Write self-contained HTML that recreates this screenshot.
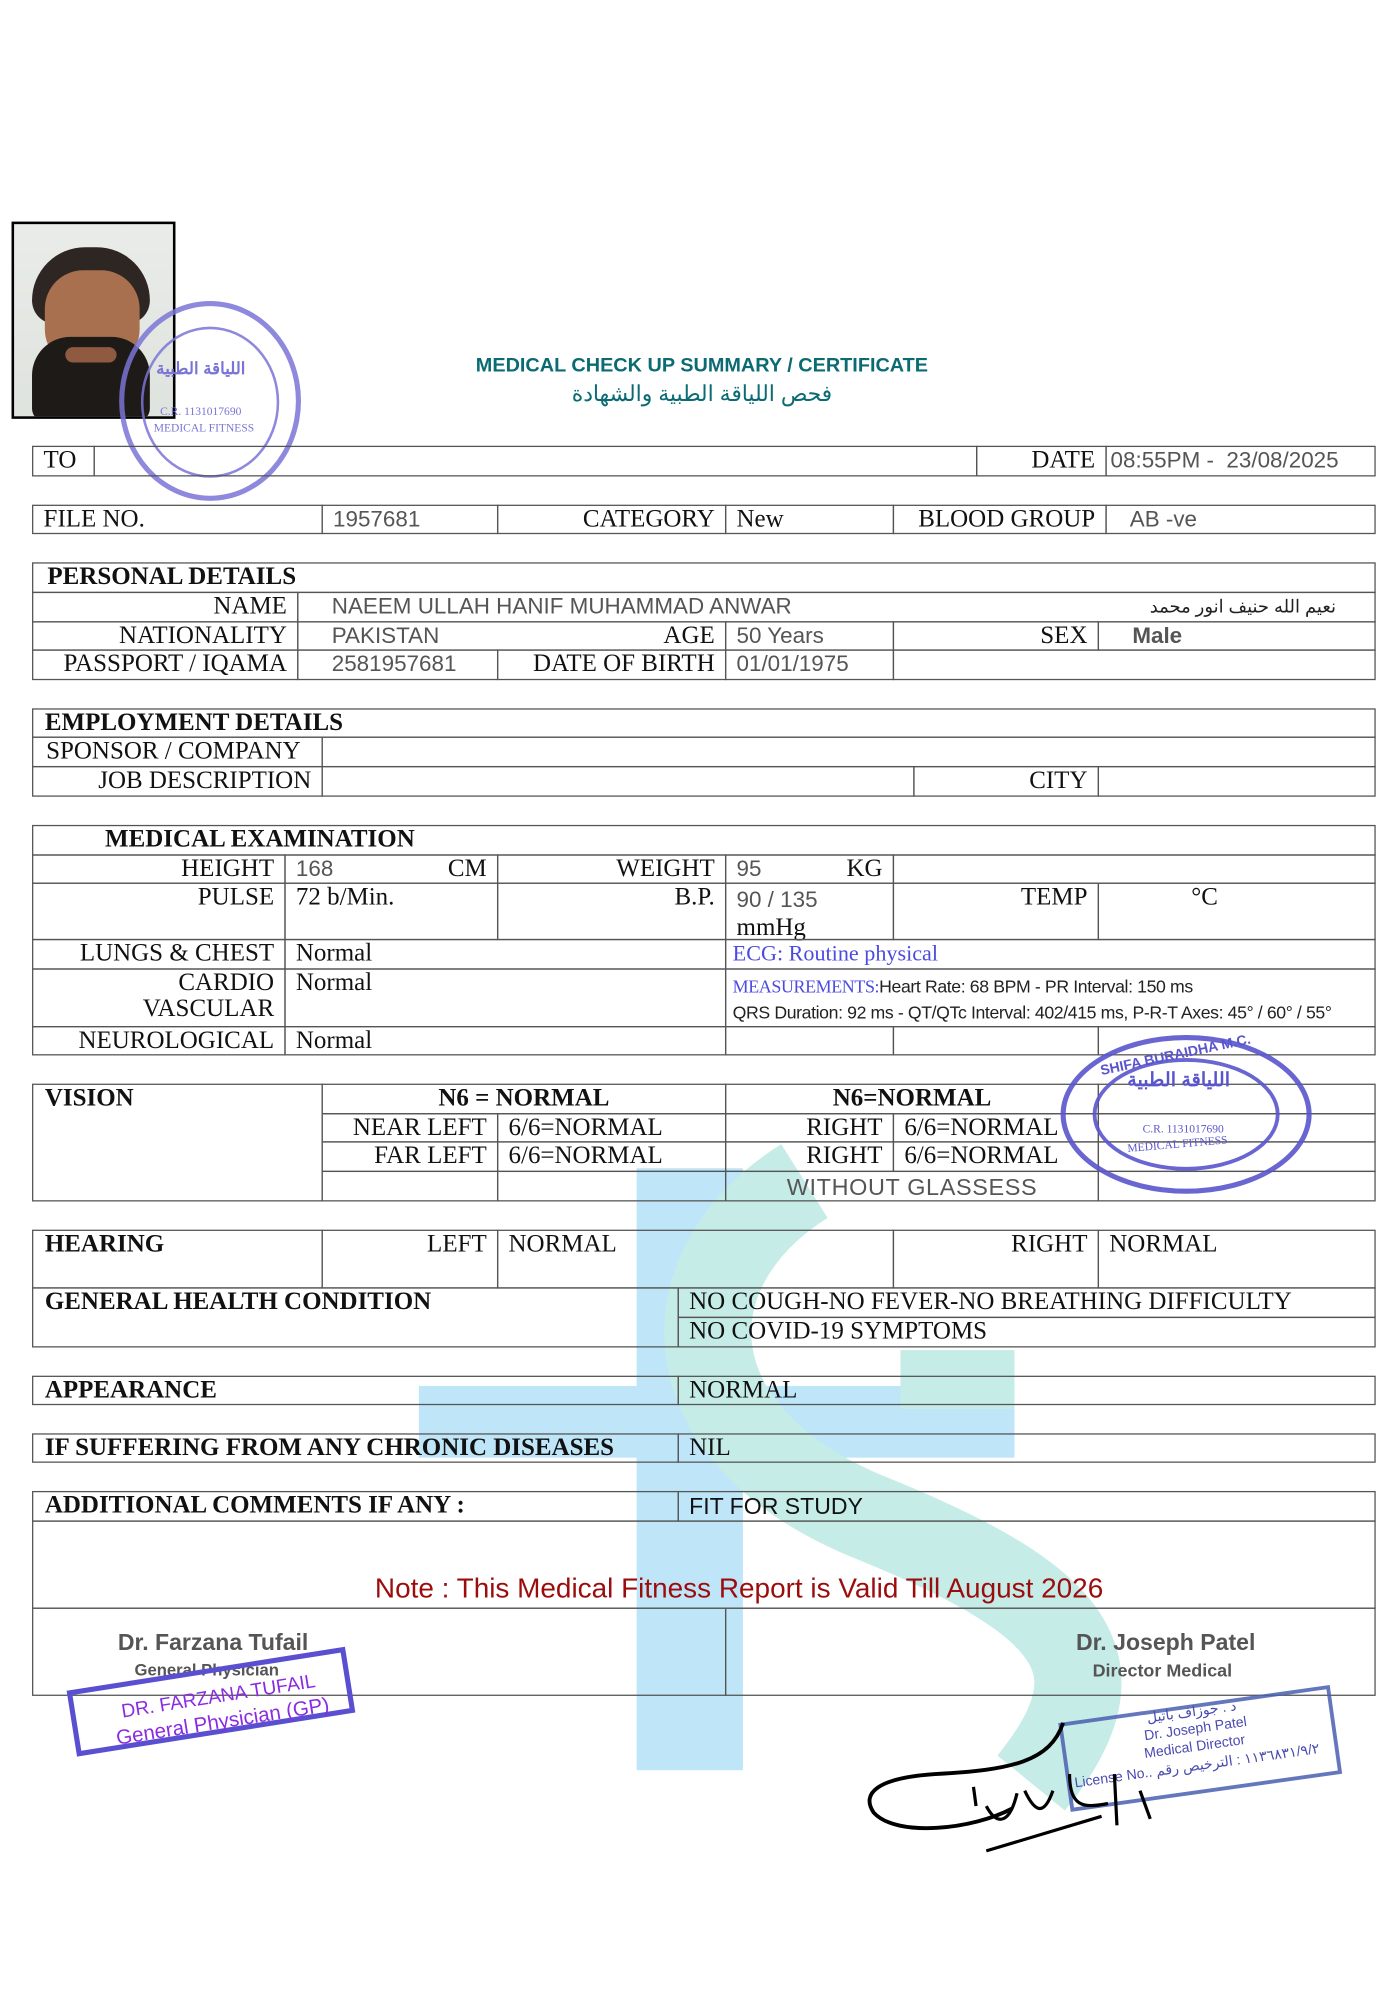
<!DOCTYPE html>
<html><head><meta charset="utf-8">
<style>
html,body{margin:0;padding:0;background:#fff;}
body{width:1400px;height:2008px;overflow:hidden;position:relative;}
#w{position:absolute;left:0;top:0;width:1093px;height:1568px;transform:scale(1.2809);transform-origin:0 0;}
.c{position:absolute;border:1.3px solid #555;box-sizing:border-box;font-family:"Liberation Serif",serif;font-size:19.5px;color:#111;line-height:20px;padding:1px 8px;white-space:nowrap;overflow:visible;}
.r{text-align:right;}
.b{font-weight:bold;}
.v{font-family:"Liberation Sans",sans-serif;color:#555;font-size:17.5px;line-height:18px;}
.t{position:absolute;white-space:nowrap;}
</style></head><body><div id="w">

<!-- watermark -->
<div style="position:absolute;left:497px;top:912px;width:83px;height:470px;background:#bfe6f8;"></div>
<div style="position:absolute;left:327px;top:1082px;width:465px;height:56px;background:#bfe6f8;"></div>
<svg style="position:absolute;left:0;top:0" width="1093" height="1568">
<path d="M628 922 C520 990, 520 1120, 680 1185 S 880 1300, 805 1392" fill="none" stroke="#c6ece8" stroke-width="68"/>
<rect x="703" y="1054" width="89" height="46" fill="#c6ece8"/>
</svg>

<!-- photo -->
<div style="position:absolute;left:9px;top:173px;width:128px;height:154px;border:2px solid #000;box-sizing:border-box;background:linear-gradient(#e9ece8,#dfe3de);overflow:hidden;">
 <div style="position:absolute;left:14px;top:18px;width:92px;height:60px;border-radius:45px 45px 20px 20px;background:#2e2623;"></div>
 <div style="position:absolute;left:24px;top:36px;width:74px;height:76px;border-radius:30px;background:#a8704f;"></div>
 <div style="position:absolute;left:14px;top:88px;width:92px;height:66px;border-radius:30px 30px 10px 10px;background:#1e1a18;"></div>
 <div style="position:absolute;left:40px;top:96px;width:40px;height:12px;border-radius:6px;background:#8f5a40;"></div>
</div>
<!-- stamp 1 -->
<div style="position:absolute;left:93px;top:235px;width:142px;height:156px;border:4px solid #7a74d6;border-radius:50%;box-sizing:border-box;opacity:.85;"></div>
<div style="position:absolute;left:110px;top:255px;width:108px;height:118px;border:2.5px solid #7a74d6;border-radius:50%;box-sizing:border-box;opacity:.85;"></div>
<div class="t" style="left:122px;top:280px;font:bold 13px 'Liberation Sans','Noto Sans CJK SC',sans-serif;color:#7a74d6;">اللياقة الطبية</div>
<div class="t" style="left:125px;top:316px;font:9px 'Liberation Serif',serif;color:#7a74d6;">C.R. 1131017690</div>
<div class="t" style="left:120px;top:329px;font:9px 'Liberation Serif',serif;color:#7a74d6;">MEDICAL FITNESS</div>

<!-- title -->
<div class="t" style="left:0;width:1096px;text-align:center;top:277px;font:bold 15.5px 'Liberation Sans',sans-serif;color:#0b6b73;">MEDICAL CHECK UP SUMMARY / CERTIFICATE</div>
<div class="t" style="left:0;width:1096px;text-align:center;top:298px;font:17px 'Liberation Sans','Noto Sans CJK SC',sans-serif;color:#0b6b73;">فحص اللياقة الطبية والشهادة</div>

<!-- TO row -->
<div class="c" style="left:25px;top:348px;width:49px;height:24px;">TO</div>
<div class="c" style="left:73px;top:348px;width:690px;height:24px;"></div>
<div class="c r" style="left:762px;top:348px;width:102px;height:24px;">DATE</div>
<div class="c v" style="left:863px;top:348px;width:211px;height:24px;padding-left:3px;font-size:17.5px;">08:55PM -&nbsp; 23/08/2025</div>

<!-- FILE row -->
<div class="c" style="left:25px;top:394px;width:227px;height:23px;">FILE NO.</div>
<div class="c v" style="left:251px;top:394px;width:138px;height:23px;">1957681</div>
<div class="c r" style="left:388px;top:394px;width:179px;height:23px;">CATEGORY</div>
<div class="c" style="left:566px;top:394px;width:132px;height:23px;">New</div>
<div class="c r" style="left:697px;top:394px;width:167px;height:23px;">BLOOD GROUP</div>
<div class="c v" style="left:863px;top:394px;width:211px;height:23px;padding-left:18px;">AB -ve</div>

<!-- Personal -->
<div class="c b" style="left:25px;top:439px;width:1049px;height:24px;padding-left:11px;">PERSONAL DETAILS</div>
<div class="c r" style="left:25px;top:462px;width:208px;height:24px;">NAME</div>
<div class="c v" style="left:232px;top:462px;width:842px;height:24px;padding-left:26px;">NAEEM ULLAH HANIF MUHAMMAD ANWAR<span style="position:absolute;right:30px;top:1px;font-family:'Liberation Sans','Noto Sans CJK SC',sans-serif;font-size:14px;color:#222;">نعيم الله حنيف انور محمد</span></div>
<div class="c r" style="left:25px;top:485px;width:208px;height:23px;">NATIONALITY</div>
<div class="c v" style="left:232px;top:485px;width:335px;height:23px;padding-left:26px;">PAKISTAN<span style="position:absolute;right:8px;top:0;font:19.5px 'Liberation Serif',serif;color:#111;">AGE</span></div>
<div class="c v" style="left:566px;top:485px;width:132px;height:23px;">50 Years</div>
<div class="c r" style="left:697px;top:485px;width:161px;height:23px;">SEX</div>
<div class="c v" style="left:857px;top:485px;width:217px;height:23px;padding-left:26px;font-weight:bold;">Male</div>
<div class="c r" style="left:25px;top:507px;width:208px;height:24px;">PASSPORT / IQAMA</div>
<div class="c v" style="left:232px;top:507px;width:157px;height:24px;padding-left:26px;">2581957681</div>
<div class="c r" style="left:388px;top:507px;width:179px;height:24px;">DATE OF BIRTH</div>
<div class="c v" style="left:566px;top:507px;width:132px;height:24px;">01/01/1975</div>
<div class="c" style="left:697px;top:507px;width:377px;height:24px;"></div>

<!-- Employment -->
<div class="c b" style="left:25px;top:553px;width:1049px;height:23px;padding-left:9px;">EMPLOYMENT DETAILS</div>
<div class="c" style="left:25px;top:575px;width:227px;height:24px;padding-left:10px;">SPONSOR / COMPANY</div>
<div class="c" style="left:251px;top:575px;width:823px;height:24px;"></div>
<div class="c r" style="left:25px;top:598px;width:227px;height:24px;">JOB DESCRIPTION</div>
<div class="c" style="left:251px;top:598px;width:463px;height:24px;"></div>
<div class="c r" style="left:713px;top:598px;width:145px;height:24px;">CITY</div>
<div class="c" style="left:857px;top:598px;width:217px;height:24px;"></div>

<!-- Medical -->
<div class="c b" style="left:25px;top:644px;width:1049px;height:24px;padding-left:56px;">MEDICAL EXAMINATION</div>
<div class="c r" style="left:25px;top:667px;width:198px;height:23px;">HEIGHT</div>
<div class="c v" style="left:222px;top:667px;width:167px;height:23px;">168<span style="position:absolute;right:8px;top:0;font:19.5px 'Liberation Serif',serif;color:#111;">CM</span></div>
<div class="c r" style="left:388px;top:667px;width:179px;height:23px;">WEIGHT</div>
<div class="c v" style="left:566px;top:667px;width:132px;height:23px;">95<span style="position:absolute;right:8px;top:0;font:19.5px 'Liberation Serif',serif;color:#111;">KG</span></div>
<div class="c" style="left:697px;top:667px;width:377px;height:23px;"></div>
<div class="c r" style="left:25px;top:689px;width:198px;height:45px;">PULSE</div>
<div class="c" style="left:222px;top:689px;width:167px;height:45px;">72 b/Min.</div>
<div class="c r" style="left:388px;top:689px;width:179px;height:45px;">B.P.</div>
<div class="c v" style="left:566px;top:689px;width:132px;height:45px;line-height:22px;">90 / 135<br><span style="font:19.5px 'Liberation Serif',serif;color:#111;">mmHg</span></div>
<div class="c r" style="left:697px;top:689px;width:161px;height:45px;">TEMP</div>
<div class="c" style="left:857px;top:689px;width:217px;height:45px;padding-left:72px;font-family:'Liberation Serif',serif;">°C</div>
<div class="c r" style="left:25px;top:733px;width:198px;height:24px;">LUNGS &amp; CHEST</div>
<div class="c" style="left:222px;top:733px;width:345px;height:24px;">Normal</div>
<div class="c" style="left:566px;top:733px;width:508px;height:24px;padding-left:5px;color:#4b4be0;font-size:17.3px;">ECG: Routine physical</div>
<div class="c r" style="left:25px;top:756px;width:198px;height:46px;">CARDIO<br>VASCULAR</div>
<div class="c" style="left:222px;top:756px;width:345px;height:46px;">Normal</div>
<div class="c" style="left:566px;top:756px;width:508px;height:46px;padding:4px 5px;font:13.8px 'Liberation Sans',sans-serif;color:#222;line-height:20px;letter-spacing:-.3px;"><span style="font:14px 'Liberation Serif',serif;color:#4b4be0;">MEASUREMENTS:</span>Heart Rate: 68 BPM - PR Interval: 150 ms<br>QRS Duration: 92 ms - QT/QTc Interval: 402/415 ms, P-R-T Axes: 45° / 60° / 55°</div>
<div class="c r" style="left:25px;top:801px;width:198px;height:23px;">NEUROLOGICAL</div>
<div class="c" style="left:222px;top:801px;width:345px;height:23px;">Normal</div>
<div class="c" style="left:566px;top:801px;width:132px;height:23px;"></div>
<div class="c" style="left:697px;top:801px;width:161px;height:23px;"></div>
<div class="c" style="left:857px;top:801px;width:217px;height:23px;"></div>

<!-- Vision -->
<div class="c b" style="left:25px;top:846px;width:227px;height:92px;padding-left:9px;">VISION</div>
<div class="c b" style="left:251px;top:846px;width:316px;height:24px;text-align:center;">N6 = NORMAL</div>
<div class="c b" style="left:566px;top:846px;width:292px;height:24px;text-align:center;">N6=NORMAL</div>
<div class="c" style="left:857px;top:846px;width:217px;height:24px;"></div>
<div class="c r" style="left:251px;top:869px;width:138px;height:23px;">NEAR LEFT</div>
<div class="c" style="left:388px;top:869px;width:179px;height:23px;">6/6=NORMAL</div>
<div class="c r" style="left:566px;top:869px;width:132px;height:23px;">RIGHT</div>
<div class="c" style="left:697px;top:869px;width:161px;height:23px;">6/6=NORMAL</div>
<div class="c" style="left:857px;top:869px;width:217px;height:23px;"></div>
<div class="c r" style="left:251px;top:891px;width:138px;height:24px;">FAR LEFT</div>
<div class="c" style="left:388px;top:891px;width:179px;height:24px;">6/6=NORMAL</div>
<div class="c r" style="left:566px;top:891px;width:132px;height:24px;">RIGHT</div>
<div class="c" style="left:697px;top:891px;width:161px;height:24px;">6/6=NORMAL</div>
<div class="c" style="left:857px;top:891px;width:217px;height:24px;"></div>
<div class="c" style="left:251px;top:914px;width:138px;height:24px;"></div>
<div class="c" style="left:388px;top:914px;width:179px;height:24px;"></div>
<div class="c v" style="left:566px;top:914px;width:292px;height:24px;text-align:center;font-size:18.3px;letter-spacing:.5px;line-height:22px;">WITHOUT GLASSESS</div>
<div class="c" style="left:857px;top:914px;width:217px;height:24px;"></div>
<!-- stamp 2 -->
<div style="position:absolute;left:828px;top:808px;width:196px;height:124px;border:4px solid #5a55cc;border-radius:50%;box-sizing:border-box;opacity:.9;"></div>
<div style="position:absolute;left:853px;top:826px;width:146px;height:88px;border:3px solid #5a55cc;border-radius:50%;box-sizing:border-box;opacity:.9;"></div>
<div class="t" style="left:858px;top:818px;font:bold 11px 'Liberation Sans',sans-serif;color:#5a55cc;transform:rotate(-12deg);">SHIFA BURAIDHA M.C.</div>
<div class="t" style="left:880px;top:834px;font:bold 15px 'Liberation Sans','Noto Sans CJK SC',sans-serif;color:#5a55cc;">اللياقة الطبية</div>
<div class="t" style="left:892px;top:876px;font:9px 'Liberation Serif',serif;color:#5a55cc;">C.R. 1131017690</div>
<div class="t" style="left:880px;top:888px;font:9px 'Liberation Serif',serif;color:#5a55cc;transform:rotate(-5deg);">MEDICAL FITNESS</div>

<!-- Hearing -->
<div class="c b" style="left:25px;top:960px;width:227px;height:46px;padding-left:9px;">HEARING</div>
<div class="c r" style="left:251px;top:960px;width:138px;height:46px;">LEFT</div>
<div class="c" style="left:388px;top:960px;width:310px;height:46px;">NORMAL</div>
<div class="c r" style="left:697px;top:960px;width:161px;height:46px;">RIGHT</div>
<div class="c" style="left:857px;top:960px;width:217px;height:46px;">NORMAL</div>
<div class="c b" style="left:25px;top:1005px;width:505px;height:47px;padding-left:9px;">GENERAL HEALTH CONDITION</div>
<div class="c" style="left:529px;top:1005px;width:545px;height:24px;">NO COUGH-NO FEVER-NO BREATHING DIFFICULTY</div>
<div class="c" style="left:529px;top:1028px;width:545px;height:24px;">NO COVID-19 SYMPTOMS</div>

<div class="c b" style="left:25px;top:1074px;width:505px;height:23px;padding-left:9px;">APPEARANCE</div>
<div class="c" style="left:529px;top:1074px;width:545px;height:23px;">NORMAL</div>

<div class="c b" style="left:25px;top:1119px;width:505px;height:23px;padding-left:9px;">IF SUFFERING FROM ANY CHRONIC DISEASES</div>
<div class="c" style="left:529px;top:1119px;width:545px;height:23px;">NIL</div>

<div class="c b" style="left:25px;top:1164px;width:505px;height:24px;padding-left:9px;">ADDITIONAL COMMENTS IF ANY :</div>
<div class="c" style="left:529px;top:1164px;width:545px;height:24px;font:18px 'Liberation Sans',sans-serif;">FIT FOR STUDY</div>
<div class="c" style="left:25px;top:1187px;width:1049px;height:69px;"></div>
<div class="t" style="left:0;width:1154px;text-align:center;top:1227px;font:21.8px 'Liberation Sans',sans-serif;color:#9b0d0d;">Note : This Medical Fitness Report is Valid Till August 2026</div>
<div class="c" style="left:25px;top:1255px;width:542px;height:69px;"></div>
<div class="c" style="left:566px;top:1255px;width:508px;height:69px;"></div>
<div class="t" style="left:92px;top:1272px;font:bold 18px 'Liberation Sans',sans-serif;color:#555;">Dr. Farzana Tufail</div>
<div class="t" style="left:105px;top:1296px;font:bold 13px 'Liberation Sans',sans-serif;color:#555;">General Physician</div>
<div class="t" style="left:840px;top:1272px;font:bold 18px 'Liberation Sans',sans-serif;color:#555;">Dr. Joseph Patel</div>
<div class="t" style="left:853px;top:1296px;font:bold 14px 'Liberation Sans',sans-serif;color:#555;">Director Medical</div>

<!-- GP stamp -->
<div style="position:absolute;left:52px;top:1320px;width:220px;height:52px;border:4px solid #5a4fd0;box-sizing:border-box;transform:rotate(-9deg);transform-origin:0 0;"></div>
<div class="t" style="left:94px;top:1316px;font:15px 'Liberation Sans',sans-serif;color:#8a2be2;transform:rotate(-9deg);">DR. FARZANA TUFAIL</div>
<div class="t" style="left:90px;top:1336px;font:16px 'Liberation Sans',sans-serif;color:#8a2be2;transform:rotate(-9deg);">General Physician (GP)</div>

<!-- Director stamp -->
<div style="position:absolute;left:830px;top:1330px;width:214px;height:70px;border:3px solid #4a5fb0;box-sizing:border-box;transform:rotate(-8deg);opacity:.85;"></div>
<div class="t" style="left:895px;top:1330px;font:11px 'Liberation Sans','Noto Sans CJK SC',sans-serif;color:#4a4ab0;transform:rotate(-8deg);">د . جوزاف باتيل</div>
<div class="t" style="left:893px;top:1344px;font:11px 'Liberation Sans',sans-serif;color:#4a4ab0;transform:rotate(-8deg);">Dr. Joseph Patel</div>
<div class="t" style="left:893px;top:1358px;font:11px 'Liberation Sans',sans-serif;color:#4a4ab0;transform:rotate(-8deg);">Medical Director</div>
<div class="t" style="left:838px;top:1372px;font:11px 'Liberation Sans','Noto Sans CJK SC',sans-serif;color:#4a4ab0;transform:rotate(-8deg);">License No.. ١١٣٦٨٣١/٩/٢ : الترخيص رقم</div>

<!-- signature -->
<svg style="position:absolute;left:670px;top:1340px" width="250" height="110">
<path d="M160 5 C150 35 120 42 60 45 C15 48 2 60 12 75 C30 95 90 88 120 72" fill="none" stroke="#000" stroke-width="3"/>
<path d="M90 55 L92 70 M100 70 C108 85 118 85 124 60 M130 58 C138 75 145 78 152 58 M165 45 C165 70 175 72 195 68 M200 45 L202 85 M220 58 L228 80 M190 78 L100 105" fill="none" stroke="#000" stroke-width="2.5"/>
</svg>

</div></body></html>
